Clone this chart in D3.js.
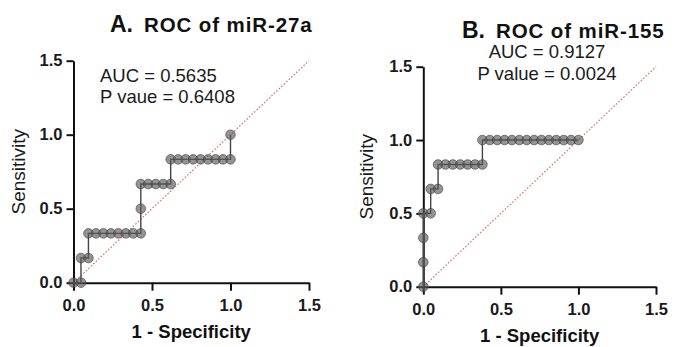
<!DOCTYPE html>
<html>
<head>
<meta charset="utf-8">
<script src="https://cdn.jsdelivr.net/npm/d3@7"></script>
<style>
  html, body { margin: 0; padding: 0; background: #fff; }
  svg { display: block; font-family: "Liberation Sans", Arial, sans-serif; }
</style>
</head>
<body>
<svg id="chart" width="677" height="347"></svg>
<script>
// ---------- data ----------
const axisTicks = [0, 0.5, 1.0, 1.5];

// Panel A: miR-27a  (1 - specificity, sensitivity)
const fprA = [0, 0.0476, 0.0476, 0.0952, 0.0952, 0.1429, 0.1905, 0.2381, 0.2857, 0.3333, 0.3810, 0.4286,
              0.4286, 0.4286, 0.4762, 0.5238, 0.5714, 0.6190, 0.6190, 0.6667, 0.7143, 0.7619, 0.8095,
              0.8571, 0.9048, 0.9524, 1.0, 1.0];
const tprA = [0, 0, 0.1667, 0.1667, 0.3333, 0.3333, 0.3333, 0.3333, 0.3333, 0.3333, 0.3333, 0.3333,
              0.5, 0.6667, 0.6667, 0.6667, 0.6667, 0.6667, 0.8333, 0.8333, 0.8333, 0.8333, 0.8333,
              0.8333, 0.8333, 0.8333, 0.8333, 1.0];

// Panel B: miR-155
const fprB = [0, 0, 0, 0, 0.0476, 0.0476, 0.0952, 0.0952, 0.1429, 0.1905, 0.2381, 0.2857, 0.3333,
              0.3810, 0.3810, 0.4286, 0.4762, 0.5238, 0.5714, 0.6190, 0.6667, 0.7143, 0.7619, 0.8095,
              0.8571, 0.9048, 0.9524, 1.0];
const tprB = [0, 0.1667, 0.3333, 0.5, 0.5, 0.6667, 0.6667, 0.8333, 0.8333, 0.8333, 0.8333, 0.8333, 0.8333,
              0.8333, 1.0, 1.0, 1.0, 1.0, 1.0, 1.0, 1.0, 1.0, 1.0, 1.0, 1.0, 1.0, 1.0, 1.0];

const titleLetters = ["A.", "B."];
const titleTexts = ["ROC of miR-27a", "ROC of miR-155"];
const aucLabels = ["AUC = 0.5635", "AUC = 0.9127"];
const pLabels = ["P vaue = 0.6408", "P value = 0.0024"];
const xTitle = "1 - Specificity";
const yTitle = "Sensitivity";

// ---------- layout ----------
const panels = [
  { fpr: fprA, tpr: tprA, x0: 73.5, x1: 309, y0: 282.7, y1: 60.7,
    titleX: 110, titleY: 32, yTitleX: 25,
    annX: 100, annAnchor: "start", aucY: 82, pY: 102.5 },
  { fpr: fprB, tpr: tprB, x0: 423.3, x1: 656, y0: 286.7, y1: 66.7,
    titleX: 462, titleY: 38, yTitleX: 373,
    annX: 547, annAnchor: "middle", aucY: 58, pY: 80 }
];

const svg = d3.select("#chart");

panels.forEach((p, i) => {
  const x = d3.scaleLinear().domain([0, 1.5]).range([p.x0, p.x1]);
  const y = d3.scaleLinear().domain([0, 1.5]).range([p.y0, p.y1]);
  const g = svg.append("g");

  // diagonal reference line
  g.append("line")
    .attr("x1", x(0)).attr("y1", y(0))
    .attr("x2", x(1.5)).attr("y2", y(1.5))
    .attr("stroke", "#dc6f7a").attr("stroke-width", 1.2)
    .attr("stroke-dasharray", "1.6,1.8");

  // axes
  const xAxis = d3.axisBottom(x).tickValues(axisTicks).tickFormat(d3.format(".1f"))
    .tickSize(8).tickSizeOuter(0).tickPadding(9);
  const yAxis = d3.axisLeft(y).tickValues(axisTicks).tickFormat(d3.format(".1f"))
    .tickSize(7).tickSizeOuter(0).tickPadding(4);

  const gx = g.append("g").attr("transform", `translate(0,${p.y0})`).call(xAxis);
  const gy = g.append("g").attr("transform", `translate(${p.x0},0)`).call(yAxis);
  [gx, gy].forEach(a => {
    a.select(".domain").attr("stroke", "#111").attr("stroke-width", 2);
    a.selectAll(".tick line").attr("stroke", "#111").attr("stroke-width", 2);
    a.selectAll(".tick text").attr("fill", "#1a1a1a")
      .style("font-size", "16.5px").style("font-weight", "bold")
      .style("font-family", "'Liberation Sans', Arial, sans-serif");
  });

  // ROC step line
  const pts = p.fpr.map((v, k) => [v, p.tpr[k]]);
  g.append("path")
    .datum(pts)
    .attr("fill", "none")
    .attr("stroke", "#444").attr("stroke-width", 1.4)
    .attr("d", d3.line().x(d => x(d[0])).y(d => y(d[1])));

  // points
  g.selectAll("circle.pt").data(pts).enter().append("circle")
    .attr("class", "pt")
    .attr("cx", d => x(d[0])).attr("cy", d => y(d[1])).attr("r", 4.8)
    .attr("fill", "rgba(90,90,90,0.65)")
    .attr("stroke", "rgba(60,60,60,0.75)").attr("stroke-width", 0.8);

  // title
  const t = svg.append("text").attr("x", p.titleX).attr("y", p.titleY)
    .attr("fill", "#111").style("font-weight", "bold");
  t.append("tspan").style("font-size", "23px").text(titleLetters[i]);
  t.append("tspan").attr("dx", 11).style("font-size", "20.5px")
    .style("letter-spacing", "0.9px").text(titleTexts[i]);

  // annotations
  svg.append("text").attr("x", p.annX).attr("y", p.aucY).attr("text-anchor", p.annAnchor)
    .attr("fill", "#1a1a1a").style("font-size", "18.5px").text(aucLabels[i]);
  svg.append("text").attr("x", p.annX).attr("y", p.pY).attr("text-anchor", p.annAnchor)
    .attr("fill", "#1a1a1a").style("font-size", "18.5px").text(pLabels[i]);

  // axis titles
  svg.append("text").attr("x", (p.x0 + p.x1) / 2).attr("y", p.y0 + 55)
    .attr("text-anchor", "middle").attr("fill", "#111")
    .style("font-size", "18.5px").style("font-weight", "bold").text(xTitle);
  svg.append("text")
    .attr("transform", `translate(${p.yTitleX},${(p.y0 + p.y1) / 2}) rotate(-90)`)
    .attr("text-anchor", "middle").attr("fill", "#1a1a1a")
    .style("font-size", "19px").text(yTitle);
});
</script>
</body>
</html>
